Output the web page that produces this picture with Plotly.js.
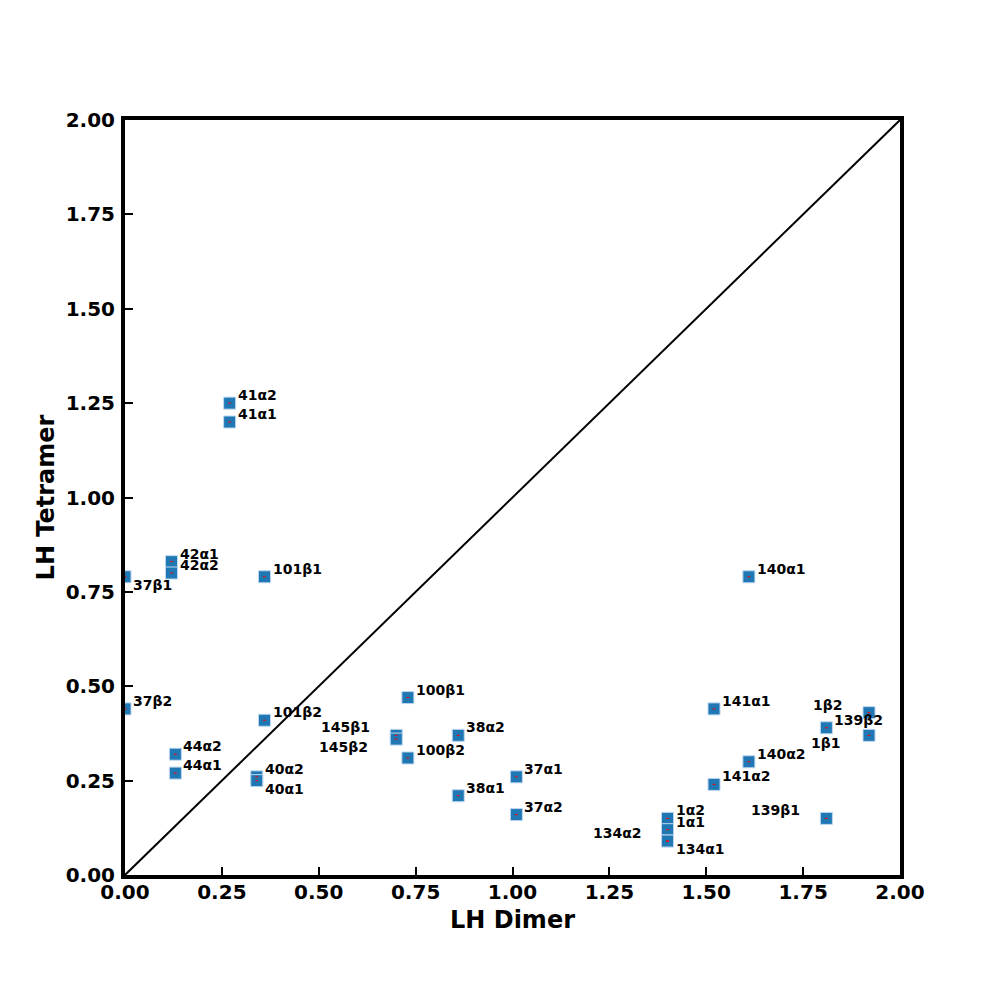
<!DOCTYPE html>
<html>
<head>
<meta charset="utf-8">
<script src="https://cdn.plot.ly/plotly-3.0.1.min.js"></script>
<style>
  body { margin: 0; background: #fff; }
  #chart { width: 1000px; height: 1000px; }
</style>
</head>
<body>
<div id="chart"></div>
<script>
// residue labels and LH values (dimer vs tetramer)
const labels = [
    "41α2", "41α1", "42α1", "42α2", "37β1", "101β1", "140α1",
    "37β2", "100β1", "101β2", "141α1", "1β2", "139β2", "1β1",
    "145β1", "145β2", "38α2", "100β2", "140α2", "44α2", "44α1",
    "40α2", "40α1", "37α1", "141α2", "38α1", "37α2", "139β1",
    "1α2", "1α1", "134α2", "134α1"
];
const dimer = [
    0.27, 0.27, 0.12, 0.12, 0.00, 0.36, 1.61,
    0.00, 0.73, 0.36, 1.52, 1.92, 1.81, 1.92,
    0.70, 0.70, 0.86, 0.73, 1.61, 0.13, 0.13,
    0.34, 0.34, 1.01, 1.52, 0.86, 1.01, 1.81,
    1.40, 1.40, 1.40, 1.40
];
const tetramer = [
    1.25, 1.20, 0.83, 0.80, 0.79, 0.79, 0.79,
    0.44, 0.47, 0.41, 0.44, 0.43, 0.39, 0.37,
    0.37, 0.36, 0.37, 0.31, 0.30, 0.32, 0.27,
    0.26, 0.25, 0.26, 0.24, 0.21, 0.16, 0.15,
    0.15, 0.12, 0.09, 0.09
];
// where each label sits: tr = top right, br = bottom right, tl = top left, bl = bottom left
const labelSide = [
    "tr", "tr", "tr", "tr", "br", "tr", "tr",
    "tr", "tr", "tr", "tr", "tl", "tr", "bl",
    "tl", "bl", "tr", "tr", "tr", "tr", "tr",
    "tr", "br", "tr", "tr", "tr", "tr", "tl",
    "tr", "tr", "tl", "br"
];
const diagonal = [0, 2];
const tickVals = [0, 0.25, 0.5, 0.75, 1, 1.25, 1.5, 1.75, 2];

const sideStyle = {
    tr: { xanchor: "left", xshift: 6, yshift: 8 },
    br: { xanchor: "left", xshift: 6, yshift: -8 },
    tl: { xanchor: "right", xshift: -24, yshift: 8 },
    bl: { xanchor: "right", xshift: -26, yshift: -8 },
};

const annotations = labels.map((lab, i) => {
    const s = sideStyle[labelSide[i]];
    return {
        x: dimer[i], y: tetramer[i], xref: "x", yref: "y",
        text: lab, showarrow: false,
        xanchor: s.xanchor, yanchor: "middle",
        xshift: s.xshift, yshift: s.yshift,
        font: { family: "DejaVu Sans", size: 14, color: "#000", weight: "bold" },
    };
});

const lineTrace = {
    x: diagonal, y: diagonal, mode: "lines",
    line: { color: "black", width: 2 },
    hoverinfo: "skip",
};

const pointTrace = {
    x: dimer, y: tetramer, mode: "markers",
    marker: {
        symbol: "square", size: 12, color: "#1f77b4",
        line: { color: "rgba(190,215,240,1)", width: 1 },
    },
};

const centerTrace = {
    x: dimer, y: tetramer, mode: "markers",
    marker: { symbol: "line-ew", size: 2, line: { color: "red", width: 1 } },
};

const axisFont = { family: "DejaVu Sans", size: 20, color: "#000", weight: "bold" };
const titleFont = { family: "DejaVu Sans", size: 24, color: "#000", weight: "bold" };

const layout = {
    width: 1000, height: 1000,
    margin: { l: 125, r: 100, t: 120, b: 125 },
    paper_bgcolor: "white", plot_bgcolor: "white",
    showlegend: false,
    xaxis: {
        range: [0, 2], tickvals: tickVals, tickformat: ".2f",
        showgrid: false, zeroline: false,
        showline: true, mirror: true, linecolor: "black", linewidth: 4,
        ticks: "inside", ticklen: 8, tickwidth: 2, tickcolor: "black",
        ticklabelstandoff: -4,
        tickfont: axisFont,
        title: { text: "LH Dimer", font: titleFont, standoff: 9 },
    },
    yaxis: {
        range: [0, 2], tickvals: tickVals, tickformat: ".2f",
        showgrid: false, zeroline: false,
        showline: true, mirror: true, linecolor: "black", linewidth: 4,
        ticks: "inside", ticklen: 8, tickwidth: 2, tickcolor: "black",
        ticklabelstandoff: 2,
        tickfont: axisFont,
        title: { text: "LH Tetramer", font: titleFont, standoff: 5 },
    },
    annotations: annotations,
};

Plotly.newPlot("chart", [lineTrace, pointTrace, centerTrace], layout, { displayModeBar: false });
</script>
</body>
</html>
